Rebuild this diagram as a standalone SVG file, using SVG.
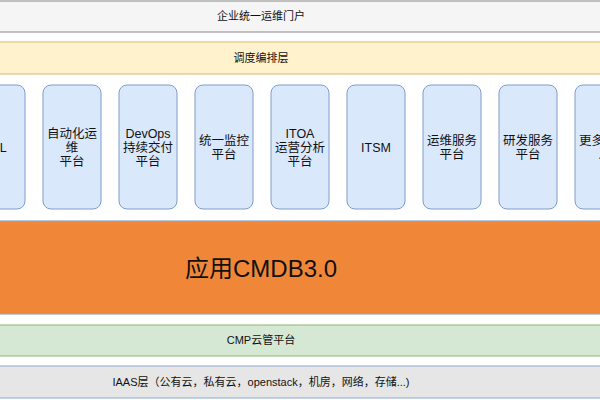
<svg xmlns="http://www.w3.org/2000/svg" width="600" height="400" viewBox="0 0 600 400">
<style>
text{font-family:"Liberation Sans","Noto Sans CJK SC",sans-serif;fill:#111;text-anchor:middle}
.bar{font-size:11px}
.box rect{fill:#dae8fc;stroke:#7f9cc8;stroke-width:1}
.box text{font-size:12.5px}
</style>
<rect width="600" height="400" fill="#ffffff"/>
<g id="portal">
<rect x="-80" y="1" width="682" height="31" fill="#f5f5f5" stroke="#999" stroke-width="1.2"/>
<text class="bar" x="261" y="20">企业统一运维门户</text>
</g>
<g id="orchestration">
<rect x="-80" y="42" width="682" height="32" fill="#fff2cc" stroke="#dcc47e" stroke-width="1.2"/>
<text class="bar" x="261" y="62">调度编排层</text>
</g>
<g id="box0" class="box">
<rect x="-33" y="85" width="58" height="124" rx="8"/>
<text x="-4" y="151.5">ITIL</text>
</g>
<g id="box1" class="box">
<rect x="43" y="85" width="58" height="124" rx="8"/>
<text x="72" y="138">自动化运</text>
<text x="72" y="152">维</text>
<text x="72" y="166">平台</text>
</g>
<g id="box2" class="box">
<rect x="119" y="85" width="58" height="124" rx="8"/>
<text x="148" y="138">DevOps</text>
<text x="148" y="152">持续交付</text>
<text x="148" y="166">平台</text>
</g>
<g id="box3" class="box">
<rect x="195" y="85" width="58" height="124" rx="8"/>
<text x="224" y="145">统一监控</text>
<text x="224" y="159">平台</text>
</g>
<g id="box4" class="box">
<rect x="271" y="85" width="58" height="124" rx="8"/>
<text x="300" y="138">ITOA</text>
<text x="300" y="152">运营分析</text>
<text x="300" y="166">平台</text>
</g>
<g id="box5" class="box">
<rect x="347" y="85" width="58" height="124" rx="8"/>
<text x="376" y="151.5">ITSM</text>
</g>
<g id="box6" class="box">
<rect x="423" y="85" width="58" height="124" rx="8"/>
<text x="452" y="145">运维服务</text>
<text x="452" y="159">平台</text>
</g>
<g id="box7" class="box">
<rect x="499" y="85" width="58" height="124" rx="8"/>
<text x="528" y="145">研发服务</text>
<text x="528" y="159">平台</text>
</g>
<g id="box8" class="box">
<rect x="575" y="85" width="58" height="124" rx="8"/>
<text x="604" y="145">更多应用</text>
<text x="604" y="159">…</text>
</g>
<g id="cmdb">
<rect x="-80" y="221" width="682" height="93" fill="#f08638" stroke="#8fa6cc" stroke-width="1.2"/>
<text x="261" y="277" font-size="24">应用CMDB3.0</text>
</g>
<g id="cmp">
<rect x="-80" y="325" width="682" height="31" fill="#d5e8d4" stroke="#9cc283" stroke-width="1.2"/>
<text class="bar" x="261" y="344">CMP云管平台</text>
</g>
<g id="iaas">
<rect x="-80" y="366" width="682" height="32" fill="#e6e6e6" stroke="#9fb2d2" stroke-width="1.2"/>
<text class="bar" x="261" y="386">IAAS层（公有云，私有云，openstack，机房，网络，存储...)</text>
</g>
<g id="connectors"></g>
</svg>
